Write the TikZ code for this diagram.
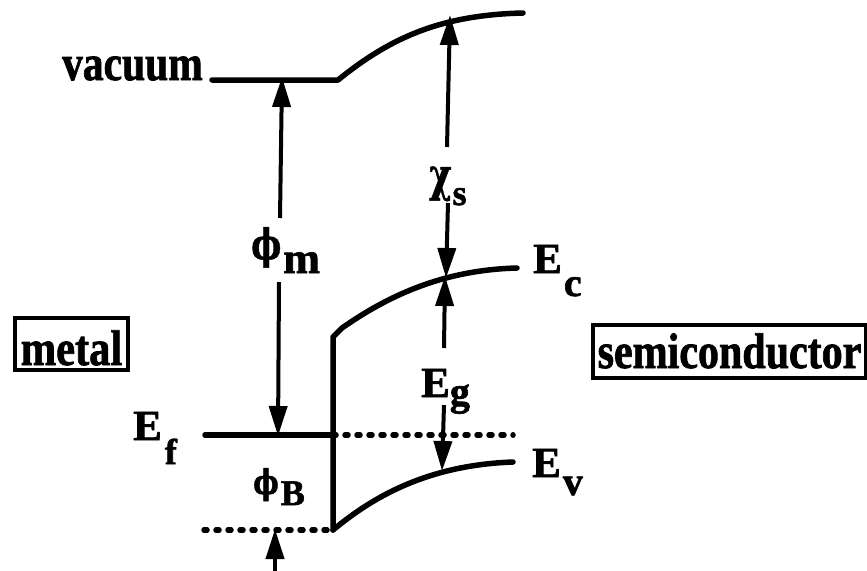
\documentclass[tikz,border=0pt]{standalone}
\usepackage{fontspec}
\setmainfont{Liberation Serif}[BoldFeatures={FakeBold=1.6}]
\newfontfamily\grk{DejaVu Serif Bold}[FakeBold=1.2]
\usetikzlibrary{arrows.meta}
\newcommand\fsz[1]{\fontsize{#1}{#1}\selectfont}
\tikzset{
  band/.style={line width=5.5pt, line cap=round, line join=round},
  dotline/.style={line width=5.5pt, line cap=round, dash pattern=on 3pt off 9pt},
  arr/.style={line width=4pt, -{Triangle[length=30pt,width=18pt]}},
  lab/.style={inner sep=0pt, anchor=base west, font=\bfseries\fsz{43}},
  boxlab/.style={draw, line width=3.2pt, inner sep=0pt, font=\bfseries\fsz{50}}
}
\begin{document}
\begin{tikzpicture}[x=1pt,y=-1pt]
\useasboundingbox (0,0) rectangle (867,570);
% coordinates
\coordinate (vacL) at (212,80);
\coordinate (vacK) at (338,80);
\coordinate (vacR) at (523,13);
\coordinate (ecL) at (333,337);
\coordinate (ecK) at (342,328);
\coordinate (ecR) at (517,268);
\coordinate (evL) at (333,530);
\coordinate (evR) at (513,462);
\coordinate (efL) at (205,435);
\coordinate (efM) at (333,435);
\coordinate (efR) at (513,435);
\coordinate (dbL) at (204,530);
% bands
\draw[band] (vacL) -- (vacK) .. controls (390,38) and (440,15) .. (vacR);
\draw[band] (evL) -- (ecL) -- (ecK) .. controls (385,298) and (440,270) .. (ecR);
\draw[band] (evL) .. controls (375,495) and (430,465) .. (evR);
\draw[band] (efL) -- (efM);
\draw[dotline] (efM) -- (efR);
\draw[dotline] (dbL) -- (evL);
% arrows
\coordinate (pm1) at (280,218); \coordinate (pm1t) at (282,77);
\coordinate (pm2) at (279,282); \coordinate (pm2t) at (278,436);
\coordinate (cs1) at (447,147); \coordinate (cs1t) at (450,15);
\coordinate (cs2) at (448,203); \coordinate (cs2t) at (446,278);
\coordinate (eg1) at (444,348); \coordinate (eg1t) at (445,276);
\coordinate (eg2) at (444,405); \coordinate (eg2t) at (442,471);
\coordinate (pb1) at (275,572); \coordinate (pb1t) at (275,529);
\draw[arr] (pm1) -- (pm1t);
\draw[arr] (pm2) -- (pm2t);
\draw[arr] (cs1) -- (cs1t);
\draw[arr] (cs2) -- (cs2t);
\draw[arr] (eg1) -- (eg1t);
\draw[arr] (eg2) -- (eg2t);
\draw[arr] (pb1) -- (pb1t);
% labels
\node[inner sep=0pt, anchor=base east, font=\bfseries\fsz{50}] (vac) at (203,80) {\scalebox{0.83}[1]{vacuum}};
\node[lab] (Ec) at (533,273) {E\kern2pt\raisebox{-23pt}{\fsz{40}c}};
\node[lab] (Ev) at (532,477) {E\kern2pt\raisebox{-18pt}{\fsz{40}v}};
\node[lab] (Ef) at (133,440) {E\kern3pt\raisebox{-24pt}{\fsz{36}f}};
\node[lab] (Eg) at (421,397) {E\raisebox{-8pt}{\fsz{40}g}};
\node[lab] (phim) at (251,259) {\scalebox{0.8}[1.05]{\grk\fsz{40}ϕ}\kern2pt\raisebox{-14pt}{\fsz{44}m}};
\node[lab] (chis) at (429,191) {\scalebox{0.85}[1.15]{\grk\fsz{40}χ}\kern1pt\raisebox{-14pt}{\fsz{36}s}};
\node[lab] (phib) at (253,494) {\scalebox{0.8}[1]{\grk\fsz{34}ϕ}\kern2pt\raisebox{-11pt}{\fsz{36}B}};
\node[boxlab, minimum width=113pt, text height=47pt, text depth=5pt] (metal) at (71.5,344) {\scalebox{0.85}[1]{metal}};
\node[boxlab, minimum width=273pt, text height=43pt, text depth=10pt] (semi) at (729.5,351.5) {\scalebox{0.84}[1]{semiconductor}};
\end{tikzpicture}
\end{document}
